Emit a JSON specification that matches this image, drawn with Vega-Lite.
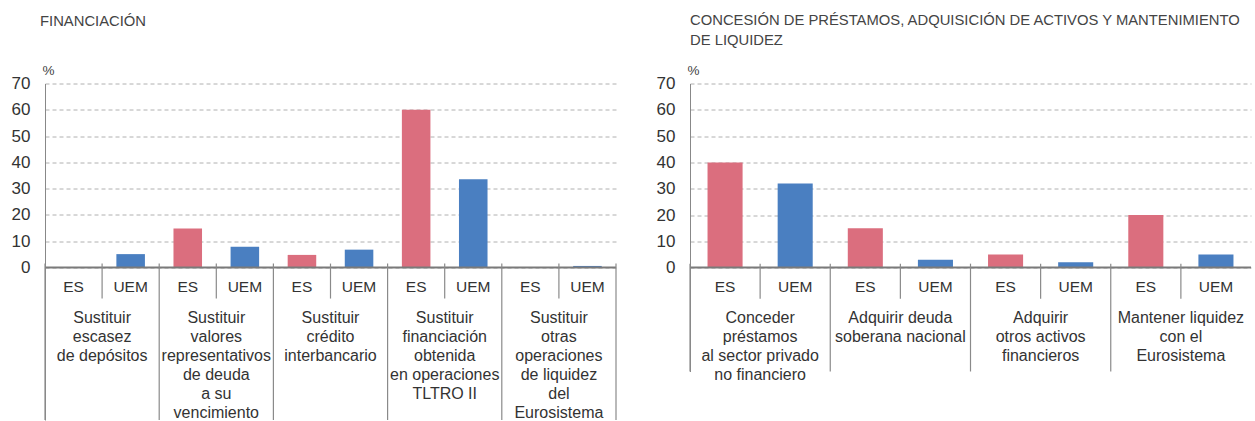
{
  "$schema": "https://vega.github.io/schema/vega-lite/v6.json",
  "padding": {"left": 11, "top": 12.5, "right": 0, "bottom": 0},
  "spacing": 39,
  "config": {
    "view": {"stroke": null},
    "font": "Liberation Sans",
    "text": {"color": "#333333"}
  },
  "datasets": {
    "fin": [
      {"slot": "1-ES", "kind": "ES", "value": 0, "label": "Sustituir\nescasez\nde depósitos"},
      {"slot": "1-UEM", "kind": "UEM", "value": 5.1, "label": "Sustituir\nescasez\nde depósitos"},
      {"slot": "2-ES", "kind": "ES", "value": 14.8, "label": "Sustituir\nvalores\nrepresentativos\nde deuda\na su\nvencimiento"},
      {"slot": "2-UEM", "kind": "UEM", "value": 7.9, "label": "Sustituir\nvalores\nrepresentativos\nde deuda\na su\nvencimiento"},
      {"slot": "3-ES", "kind": "ES", "value": 4.8, "label": "Sustituir\ncrédito\ninterbancario"},
      {"slot": "3-UEM", "kind": "UEM", "value": 6.8, "label": "Sustituir\ncrédito\ninterbancario"},
      {"slot": "4-ES", "kind": "ES", "value": 60, "label": "Sustituir\nfinanciación\nobtenida\nen operaciones\nTLTRO II"},
      {"slot": "4-UEM", "kind": "UEM", "value": 33.6, "label": "Sustituir\nfinanciación\nobtenida\nen operaciones\nTLTRO II"},
      {"slot": "5-ES", "kind": "ES", "value": 0, "label": "Sustituir\notras\noperaciones\nde liquidez\ndel\nEurosistema"},
      {"slot": "5-UEM", "kind": "UEM", "value": 0.6, "label": "Sustituir\notras\noperaciones\nde liquidez\ndel\nEurosistema"}
    ],
    "conc": [
      {"slot": "1-ES", "kind": "ES", "value": 40, "label": "Conceder\npréstamos\nal sector privado\nno financiero"},
      {"slot": "1-UEM", "kind": "UEM", "value": 32, "label": "Conceder\npréstamos\nal sector privado\nno financiero"},
      {"slot": "2-ES", "kind": "ES", "value": 15, "label": "Adquirir deuda\nsoberana nacional"},
      {"slot": "2-UEM", "kind": "UEM", "value": 3, "label": "Adquirir deuda\nsoberana nacional"},
      {"slot": "3-ES", "kind": "ES", "value": 5, "label": "Adquirir\notros activos\nfinancieros"},
      {"slot": "3-UEM", "kind": "UEM", "value": 2, "label": "Adquirir\notros activos\nfinancieros"},
      {"slot": "4-ES", "kind": "ES", "value": 20, "label": "Mantener liquidez\ncon el\nEurosistema"},
      {"slot": "4-UEM", "kind": "UEM", "value": 5, "label": "Mantener liquidez\ncon el\nEurosistema"}
    ]
  },
  "hconcat": [
    {
      "width": 571,
      "height": 336.5,
      "title": {"text": "FINANCIACIÓN", "anchor": "start", "frame": "group", "dx": -5, "dy": -19, "fontSize": 14.8, "fontWeight": "normal", "color": "#444444", "offset": 16},
      "data": {"name": "fin"},
      "layer": [
        {
          "mark": {"type": "bar", "width": {"band": 0.5}},
          "encoding": {
            "x": {"field": "slot", "type": "nominal", "scale": {"paddingInner": 0, "paddingOuter": 0}, "axis": null},
            "y": {"field": "value", "type": "quantitative",
              "scale": {"domain": [-58, 70], "nice": false, "zero": false},
              "axis": {"values": [0, 10, 20, 30, 40, 50, 60, 70], "title": "%", "titleAngle": 0, "titleAlign": "left", "titleBaseline": "middle", "titleX": -3, "titleY": -13, "titleFontSize": 13.5, "titleFontWeight": "normal", "titleColor": "#444444", "labelFontSize": 17, "labelColor": "#333333", "labelPadding": 15, "ticks": false, "domainColor": "#888888", "grid": true, "gridColor": "#b0b0b0", "gridDash": [4, 3]}},
            "color": {"field": "kind", "type": "nominal", "scale": {"domain": ["ES", "UEM"], "range": ["#db6e7e", "#4a7fc1"]}, "legend": null}
          }
        },
        {
          "transform": [{"filter": "datum.slot == '1-ES'"}],
          "mark": {"type": "rule", "color": "#7a7a7a", "strokeWidth": 2},
          "encoding": {"y": {"datum": 0, "type": "quantitative"}}
        },
        {
          "transform": [{"filter": "datum.kind == 'UEM'"}],
          "mark": {"type": "rule", "color": "#8a8a8a", "strokeWidth": 1.2},
          "encoding": {
            "x": {"field": "slot", "type": "nominal", "bandPosition": 0},
            "y": {"datum": 1.5, "type": "quantitative"},
            "y2": {"datum": -11.8}
          }
        },
        {
          "transform": [{"filter": "datum.kind == 'ES'"}],
          "mark": {"type": "rule", "color": "#8a8a8a", "strokeWidth": 1.2},
          "encoding": {
            "x": {"field": "slot", "type": "nominal", "bandPosition": 0},
            "y": {"datum": 1.5, "type": "quantitative"},
            "y2": {"datum": -58}
          }
        },
        {
          "transform": [{"filter": "datum.slot == '5-UEM'"}],
          "mark": {"type": "rule", "color": "#8a8a8a", "strokeWidth": 1.2},
          "encoding": {
            "x": {"field": "slot", "type": "nominal", "bandPosition": 1},
            "y": {"datum": 1.5, "type": "quantitative"},
            "y2": {"datum": -58}
          }
        },
        {
          "mark": {"type": "text", "fontSize": 15.5, "baseline": "middle", "align": "center"},
          "encoding": {
            "x": {"field": "slot", "type": "nominal"},
            "y": {"datum": -7.4, "type": "quantitative"},
            "text": {"field": "kind"}
          }
        },
        {
          "transform": [{"filter": "datum.kind == 'UEM'"}],
          "mark": {"type": "text", "fontSize": 16, "baseline": "top", "align": "center", "lineBreak": "\n", "lineHeight": 19},
          "encoding": {
            "x": {"field": "slot", "type": "nominal", "bandPosition": 0},
            "y": {"datum": -16.3, "type": "quantitative"},
            "text": {"field": "label"}
          }
        }
      ]
    },
    {
      "width": 561,
      "height": 288,
      "title": {"text": ["CONCESIÓN DE PRÉSTAMOS, ADQUISICIÓN DE ACTIVOS Y MANTENIMIENTO", "DE LIQUIDEZ"], "anchor": "start", "frame": "group", "dx": 0, "fontSize": 14.8, "fontWeight": "normal", "color": "#444444", "offset": 16, "lineHeight": 19.5},
      "data": {"name": "conc"},
      "layer": [
        {
          "mark": {"type": "bar", "width": {"band": 0.5}},
          "encoding": {
            "x": {"field": "slot", "type": "nominal", "scale": {"paddingInner": 0, "paddingOuter": 0}, "axis": null},
            "y": {"field": "value", "type": "quantitative",
              "scale": {"domain": [-39.5, 70], "nice": false, "zero": false},
              "axis": {"values": [0, 10, 20, 30, 40, 50, 60, 70], "title": "%", "titleAngle": 0, "titleAlign": "left", "titleBaseline": "middle", "titleX": -3, "titleY": -13, "titleFontSize": 13.5, "titleFontWeight": "normal", "titleColor": "#444444", "labelFontSize": 17, "labelColor": "#333333", "labelPadding": 15, "ticks": false, "domainColor": "#888888", "grid": true, "gridColor": "#b0b0b0", "gridDash": [4, 3]}},
            "color": {"field": "kind", "type": "nominal", "scale": {"domain": ["ES", "UEM"], "range": ["#db6e7e", "#4a7fc1"]}, "legend": null}
          }
        },
        {
          "transform": [{"filter": "datum.slot == '1-ES'"}],
          "mark": {"type": "rule", "color": "#7a7a7a", "strokeWidth": 2},
          "encoding": {"y": {"datum": 0, "type": "quantitative"}}
        },
        {
          "transform": [{"filter": "datum.kind == 'UEM'"}],
          "mark": {"type": "rule", "color": "#8a8a8a", "strokeWidth": 1.2},
          "encoding": {
            "x": {"field": "slot", "type": "nominal", "bandPosition": 0},
            "y": {"datum": 1.5, "type": "quantitative"},
            "y2": {"datum": -11.8}
          }
        },
        {
          "transform": [{"filter": "datum.kind == 'ES'"}],
          "mark": {"type": "rule", "color": "#8a8a8a", "strokeWidth": 1.2},
          "encoding": {
            "x": {"field": "slot", "type": "nominal", "bandPosition": 0},
            "y": {"datum": 1.5, "type": "quantitative"},
            "y2": {"datum": -39.5}
          }
        },
        {
          "mark": {"type": "text", "fontSize": 15.5, "baseline": "middle", "align": "center"},
          "encoding": {
            "x": {"field": "slot", "type": "nominal"},
            "y": {"datum": -7.4, "type": "quantitative"},
            "text": {"field": "kind"}
          }
        },
        {
          "transform": [{"filter": "datum.kind == 'UEM'"}],
          "mark": {"type": "text", "fontSize": 16, "baseline": "top", "align": "center", "lineBreak": "\n", "lineHeight": 19},
          "encoding": {
            "x": {"field": "slot", "type": "nominal", "bandPosition": 0},
            "y": {"datum": -16.3, "type": "quantitative"},
            "text": {"field": "label"}
          }
        }
      ]
    }
  ]
}
